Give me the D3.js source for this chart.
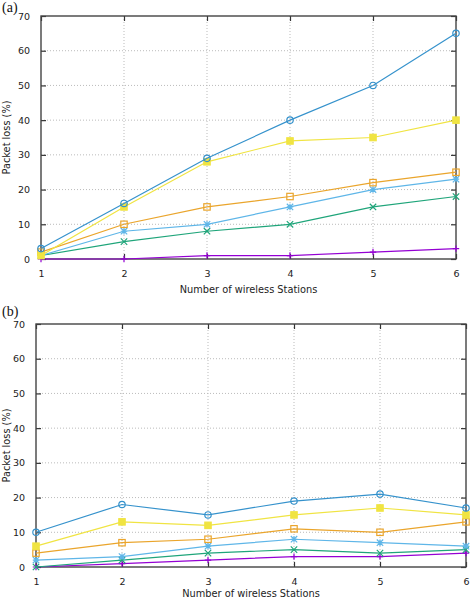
<!DOCTYPE html>
<html><head><meta charset="utf-8">
<script src="https://cdn.jsdelivr.net/npm/d3@7"></script>
<style>body{margin:0;background:#fff}svg{display:block}</style>
</head><body>
<svg id="c" width="472" height="600"></svg>
<script>
const stations = [1, 2, 3, 4, 5, 6];
const yTicks = [0, 10, 20, 30, 40, 50, 60, 70];
const seriesNames = ["s1", "s2", "s3", "s4", "s5", "s6"];
const seriesColors = ["#9400d3", "#1fa57a", "#5fb6e8", "#eaa52c", "#f0e442", "#3592cc"];
const seriesMarkers = ["plus", "cross", "star", "square", "fsquare", "circle"];
// Panel (a)
const a_purple = [0, 0, 1, 1, 2, 3];
const a_green  = [1, 5, 8, 10, 15, 18];
const a_lblue  = [1, 8, 10, 15, 20, 23];
const a_orange = [2, 10, 15, 18, 22, 25];
const a_yellow = [1, 15, 28, 34, 35, 40];
const a_blue   = [3, 16, 29, 40, 50, 65];
// Panel (b)
const b_purple = [0, 1, 2, 3, 3, 4];
const b_green  = [0, 2, 4, 5, 4, 5];
const b_lblue  = [2, 3, 6, 8, 7, 6];
const b_orange = [4, 7, 8, 11, 10, 13];
const b_yellow = [6, 13, 12, 15, 17, 15];
const b_blue   = [10, 18, 15, 19, 21, 17];

const svg = d3.select("#c");
const sans = "DejaVu Sans, Verdana, sans-serif";

function panel(opt, data) {
  const g = svg.append("g");
  const x = d3.scaleLinear().domain([1, 6]).range([opt.left, opt.right]);
  const y = d3.scaleLinear().domain([0, 70]).range([opt.bottom, opt.top]);
  // grid
  g.selectAll(".gx").data(stations.slice(1, -1)).enter().append("line")
    .attr("x1", d => x(d)).attr("x2", d => x(d)).attr("y1", opt.top).attr("y2", opt.bottom)
    .attr("stroke", "#bbb").attr("stroke-width", 1).attr("stroke-dasharray", "1,2");
  g.selectAll(".gy").data(yTicks.slice(1, -1)).enter().append("line")
    .attr("x1", opt.left).attr("x2", opt.right).attr("y1", d => y(d)).attr("y2", d => y(d))
    .attr("stroke", "#bbb").attr("stroke-width", 1).attr("stroke-dasharray", "1,2");
  // axes with inward ticks
  const tl = 5;
  const axL = g.append("g").attr("transform", `translate(${opt.left},0)`)
    .call(d3.axisLeft(y).tickValues(yTicks).tickSize(-tl).tickPadding(6 + tl).tickFormat(d3.format("d")));
  const axR = g.append("g").attr("transform", `translate(${opt.right},0)`)
    .call(d3.axisRight(y).tickValues(yTicks).tickSize(-tl).tickFormat(""));
  const axB = g.append("g").attr("transform", `translate(0,${opt.bottom})`)
    .call(d3.axisBottom(x).tickValues(stations).tickSize(-tl).tickPadding(6 + tl).tickFormat(d3.format("d")));
  const axT = g.append("g").attr("transform", `translate(0,${opt.top})`)
    .call(d3.axisTop(x).tickValues(stations).tickSize(-tl).tickFormat(""));
  [axL, axR, axB, axT].forEach(ax => {
    ax.select(".domain").remove();
    ax.selectAll("line").attr("stroke", "#333").attr("stroke-width", 1.2);
    ax.selectAll("text").attr("font-family", sans).attr("font-size", 9.5).attr("fill", "#222");
  });
  // frame
  g.append("rect").attr("x", opt.left).attr("y", opt.top)
    .attr("width", opt.right - opt.left).attr("height", opt.bottom - opt.top)
    .attr("fill", "none").attr("stroke", "#444").attr("stroke-width", 1.4);
  // series
  const line = d3.line().x((d, i) => x(stations[i])).y(d => y(d));
  data.forEach((vals, k) => {
    const col = seriesColors[k];
    g.append("path").attr("d", line(vals)).attr("fill", "none")
      .attr("stroke", col).attr("stroke-width", 1.2);
    const m = seriesMarkers[k];
    vals.forEach((v, i) => {
      const cx = x(stations[i]), cy = y(v), r = 3.2;
      if (m === "circle") {
        g.append("circle").attr("cx", cx).attr("cy", cy).attr("r", r)
          .attr("fill", "none").attr("stroke", col).attr("stroke-width", 1.2);
      } else if (m === "square" || m === "fsquare") {
        g.append("rect").attr("x", cx - r).attr("y", cy - r).attr("width", 2 * r).attr("height", 2 * r)
          .attr("fill", m === "fsquare" ? col : "none").attr("stroke", col).attr("stroke-width", 1.2);
      } else {
        const p = d3.path();
        if (m === "plus" || m === "star") { p.moveTo(cx - r, cy); p.lineTo(cx + r, cy); p.moveTo(cx, cy - r); p.lineTo(cx, cy + r); }
        if (m === "cross" || m === "star") { p.moveTo(cx - r, cy - r); p.lineTo(cx + r, cy + r); p.moveTo(cx - r, cy + r); p.lineTo(cx + r, cy - r); }
        g.append("path").attr("d", p.toString()).attr("stroke", col).attr("stroke-width", 1.2).attr("fill", "none");
      }
    });
  });
  // labels
  g.append("text").attr("x", 2).attr("y", opt.tagY).text(opt.tag)
    .attr("font-family", "Liberation Serif, Times New Roman, serif").attr("font-size", 14).attr("fill", "#111");
  g.append("text").attr("transform", `translate(10,${(opt.top + opt.bottom) / 2}) rotate(-90)`)
    .attr("text-anchor", "middle").text("Packet loss (%)")
    .attr("font-family", sans).attr("font-size", 9.8).attr("fill", "#222");
  g.append("text").attr("x", (opt.left + opt.right) / 2).attr("y", opt.labelY)
    .attr("text-anchor", "middle").text("Number of wireless Stations")
    .attr("font-family", sans).attr("font-size", 9.8).attr("fill", "#222");
}

panel({ left: 41, right: 456, top: 16, bottom: 259, tag: "(a)", tagY: 12, labelY: 293 },
  [a_purple, a_green, a_lblue, a_orange, a_yellow, a_blue]);
panel({ left: 36, right: 466, top: 324, bottom: 567, tag: "(b)", tagY: 316, labelY: 597 },
  [b_purple, b_green, b_lblue, b_orange, b_yellow, b_blue]);
</script>
</body></html>
